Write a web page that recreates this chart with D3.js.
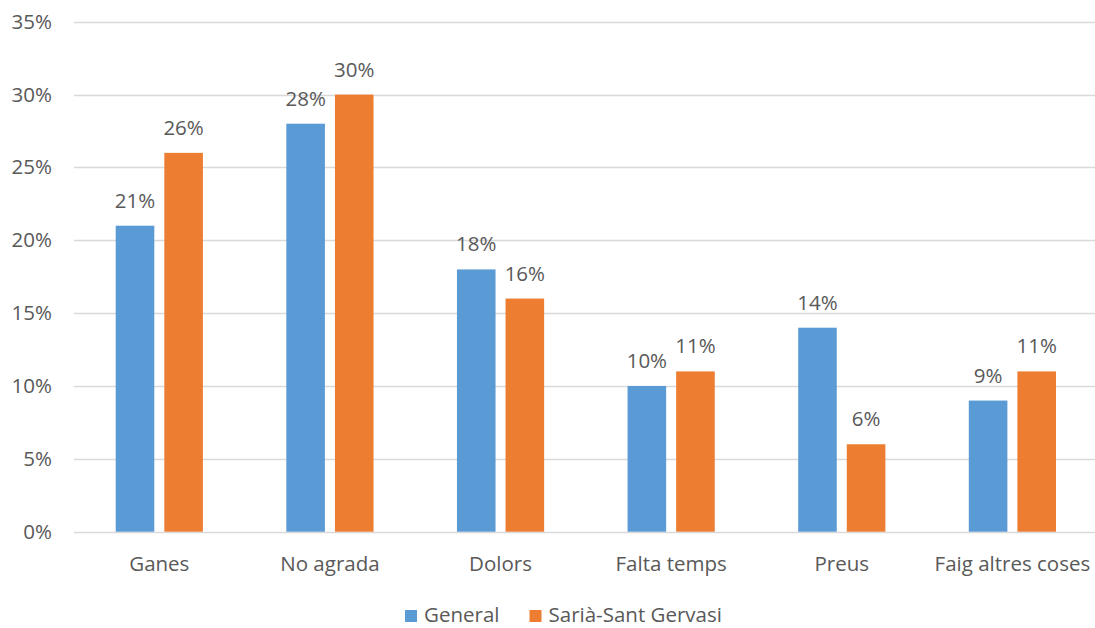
<!DOCTYPE html>
<html>
<head>
<meta charset="utf-8">
<script src="https://cdn.jsdelivr.net/npm/d3@7"></script>
<style>
  html, body { margin: 0; padding: 0; background: #fff; }
  svg { display: block; font-family: "Open Sans", "Noto Sans", sans-serif; }
</style>
</head>
<body>
<svg id="chart" width="1095" height="628"></svg>
<script>
// Reasons given, by share of respondents
const categories = ["Ganes", "No agrada", "Dolors", "Falta temps", "Preus", "Faig altres coses"];
const seriesNames = ["General", "Sarià-Sant Gervasi"];
const generalValues = [21, 28, 18, 10, 14, 9];
const sarriaValues = [26, 30, 16, 11, 6, 11];
const yTicks = [0, 5, 10, 15, 20, 25, 30, 35];
const colors = ["#5B9BD5", "#ED7D31"];

const seriesValues = [generalValues, sarriaValues];
const svg = d3.select("#chart");
const textColor = "#595959";
const fontSize = "20.5px";

const plot = { left: 74, right: 1097.7, top: 21.7, bottom: 531.7 };

const y = d3.scaleLinear().domain([0, 35]).range([plot.bottom, plot.top]);
const x0 = d3.scaleBand().domain(categories).range([plot.left, plot.right]).padding(0);
const x1 = d3.scaleBand().domain(seriesNames).range([-43.6, 43.6]).paddingInner(0.206).paddingOuter(0);

// Gridlines
svg.append("g")
  .selectAll("line")
  .data(yTicks)
  .join("line")
  .attr("x1", plot.left)
  .attr("x2", 1095)
  .attr("y1", d => Math.round(y(d)) + 0.5)
  .attr("y2", d => Math.round(y(d)) + 0.5)
  .attr("stroke", "#D9D9D9")
  .attr("stroke-width", 1.3);

// Y axis labels
const yAxis = d3.axisLeft(y).tickValues(yTicks).tickFormat(d => d + "%").tickSize(0).tickPadding(0);
const yg = svg.append("g").attr("transform", "translate(52,0)").call(yAxis);
yg.select(".domain").remove();
yg.selectAll("text")
  .attr("fill", textColor)
  .style("font-size", fontSize)
  .style("font-family", "'Open Sans', sans-serif");

// Bars
const groups = svg.append("g")
  .selectAll("g")
  .data(categories)
  .join("g")
  .attr("transform", d => `translate(${x0(d) + x0.bandwidth() / 2},0)`);

groups.selectAll("rect")
  .data((c, i) => seriesNames.map((s, k) => ({ s, k, v: seriesValues[k][i] })))
  .join("rect")
  .attr("x", d => x1(d.s))
  .attr("width", x1.bandwidth())
  .attr("y", d => y(d.v))
  .attr("height", d => y(0) - y(d.v))
  .attr("fill", d => colors[d.k]);

// Value labels
groups.selectAll("text.value")
  .data((c, i) => seriesNames.map((s, k) => ({ s, k, v: seriesValues[k][i] })))
  .join("text")
  .attr("class", "value")
  .attr("x", d => x1(d.s) + x1.bandwidth() / 2)
  .attr("y", d => y(d.v) - 18)
  .attr("text-anchor", "middle")
  .attr("fill", textColor)
  .style("font-size", fontSize)
  .text(d => d.v + "%");

// Category labels
const xAxis = d3.axisBottom(x0).tickSize(0).tickPadding(0);
const xg = svg.append("g").attr("transform", "translate(0,571)").call(xAxis);
xg.select(".domain").remove();
xg.selectAll("text")
  .attr("dy", 0)
  .attr("fill", textColor)
  .style("font-size", fontSize)
  .style("font-family", "'Open Sans', sans-serif");

// Legend
const legendItems = [
  { name: seriesNames[0], color: colors[0], x: 405 },
  { name: seriesNames[1], color: colors[1], x: 529.5 }
];
const legend = svg.append("g").selectAll("g").data(legendItems).join("g")
  .attr("transform", d => `translate(${d.x},0)`);
legend.append("rect")
  .attr("x", 0).attr("y", 610).attr("width", 12).attr("height", 12)
  .attr("fill", d => d.color);
legend.append("text")
  .attr("x", 19).attr("y", 622)
  .attr("fill", textColor)
  .style("font-size", fontSize)
  .text(d => d.name);
</script>
</body>
</html>
